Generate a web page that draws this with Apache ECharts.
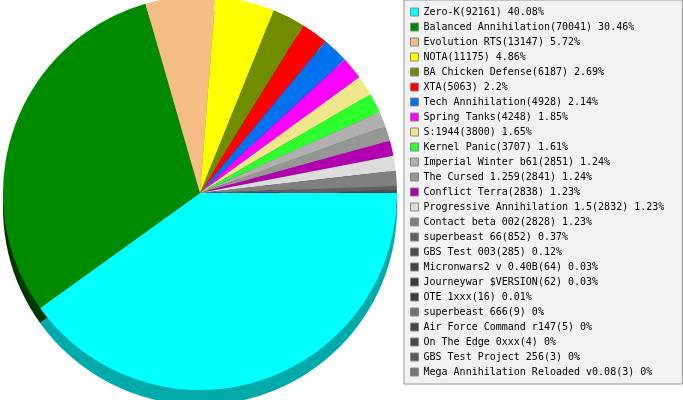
<!DOCTYPE html>
<html>
<head>
<meta charset="utf-8">
<script src="https://cdn.jsdelivr.net/npm/echarts@6/dist/echarts.min.js"></script>
<style>
  html, body { margin: 0; padding: 0; background: #fff; }
  #chart { width: 683px; height: 400px; }
</style>
</head>
<body>
<div id="chart"></div>
<script>
const names = [
  'Zero-K', 'Balanced Annihilation', 'Evolution RTS', 'NOTA', 'BA Chicken Defense',
  'XTA', 'Tech Annihilation', 'Spring Tanks', 'S:1944', 'Kernel Panic',
  'Imperial Winter b61', 'The Cursed 1.259', 'Conflict Terra', 'Progressive Annihilation 1.5',
  'Contact beta 002', 'superbeast 66', 'GBS Test 003', 'Micronwars2 v 0.40B',
  'Journeywar $VERSION', 'OTE 1xxx', 'superbeast 666', 'Air Force Command r147',
  'On The Edge 0xxx', 'GBS Test Project 256', 'Mega Annihilation Reloaded v0.08'
];
const values = [
  92161, 70041, 13147, 11175, 6187,
  5063, 4928, 4248, 3800, 3707,
  2851, 2841, 2838, 2832,
  2828, 852, 285, 64,
  62, 16, 9, 5,
  4, 3, 3
];
const colors = [
  '#00ffff', '#008a00', '#f4be84', '#ffff00', '#708c00',
  '#ff0000', '#0072f0', '#ff00ff', '#f0e68c', '#2cff2c',
  '#b0b0b0', '#969696', '#b000b0', '#dcdcdc',
  '#808080', '#606060', '#505050', '#444444',
  '#3c3c3c', '#3a3a3a', '#707070', '#444444',
  '#484848', '#5a5a5a', '#777777'
];

function darken(hex, d) {
  const n = parseInt(hex.slice(1), 16);
  const r = Math.max(0, ((n >> 16) & 255) - d);
  const g = Math.max(0, ((n >> 8) & 255) - d);
  const b = Math.max(0, (n & 255) - d);
  return 'rgb(' + r + ',' + g + ',' + b + ')';
}

const total = values.reduce((a, b) => a + b, 0);
const labelMap = {};
names.forEach((n, i) => {
  const pct = parseFloat((values[i] / total * 100).toFixed(2));
  labelMap[n] = n + '(' + values[i] + ') ' + pct + '%';
});

const frontData = names.map((n, i) => ({ name: n, value: values[i], itemStyle: { color: colors[i] } }));
const backData = names.map((n, i) => ({ name: n, value: values[i], itemStyle: { color: darken(colors[i], 85) } }));

const chart = echarts.init(document.getElementById('chart'), null, { renderer: 'canvas' });
chart.setOption({
  animation: false,
  backgroundColor: '#ffffff',
  legend: {
    orient: 'vertical',
    left: 404,
    top: 0,
    padding: [6, 18, 6, 6],
    backgroundColor: '#f2f2f2',
    borderColor: '#999999',
    borderWidth: 1,
    itemWidth: 8,
    itemHeight: 8,
    itemGap: 3,
    icon: 'rect',
    itemStyle: { borderColor: '#888888', borderWidth: 1 },
    textStyle: {
      fontFamily: 'DejaVu Sans Mono',
      fontSize: 10,
      lineHeight: 12,
      color: '#000000'
    },
    data: names,
    formatter: function (n) { return labelMap[n]; },
    selectedMode: false
  },
  series: [
    {
      type: 'pie',
      z: 3,
      center: [200, 193],
      radius: 197,
      startAngle: 0,
      clockwise: true,
      avoidLabelOverlap: false,
      label: { show: false },
      labelLine: { show: false },
      emphasis: { disabled: true },
      itemStyle: { borderWidth: 0 },
      data: frontData
    },
    {
      type: 'pie',
      z: 2,
      center: [200, 208],
      radius: 197,
      startAngle: 0,
      clockwise: true,
      avoidLabelOverlap: false,
      label: { show: false },
      labelLine: { show: false },
      emphasis: { disabled: true },
      itemStyle: { borderWidth: 0 },
      data: backData
    }
  ]
});
</script>
</body>
</html>
